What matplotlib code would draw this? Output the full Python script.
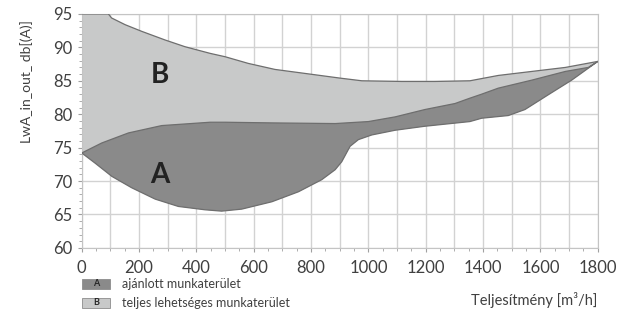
import matplotlib.pyplot as plt
from matplotlib.patches import Rectangle
from matplotlib.ticker import MultipleLocator

plt.rcParams['font.family'] = ['Lato', 'DejaVu Sans']

# upper edge of the full working area (B)
b_top_x = [0, 93, 104, 151, 209, 291, 360, 448, 500, 581, 674, 779, 901, 977,
           1116, 1232, 1354, 1453, 1570, 1687, 1800]
b_top_y = [95, 95, 94.4, 93.4, 92.4, 91.1, 90.1, 89.1, 88.6, 87.6, 86.7, 86.1,
           85.4, 85.0, 84.9, 84.9, 85.0, 85.8, 86.4, 87.0, 87.9]

# upper edge of the recommended area (A)
a_top_x = [0, 70, 163, 279, 448, 500, 663, 884, 1000, 1093, 1197, 1302, 1354,
           1395, 1453, 1570, 1687, 1767, 1800]
a_top_y = [74.2, 75.7, 77.2, 78.3, 78.8, 78.8, 78.7, 78.6, 78.9, 79.6, 80.7,
           81.6, 82.4, 83.0, 83.9, 85.1, 86.4, 87.0, 87.9]

# lower edge of the recommended area (A)
a_bot_x = [0, 46, 105, 174, 256, 337, 430, 488, 558, 663, 756, 837, 884, 907,
           936, 965, 1012, 1093, 1197, 1354, 1395, 1488, 1546, 1627, 1709, 1800]
a_bot_y = [74.2, 72.7, 70.7, 69.0, 67.3, 66.2, 65.7, 65.5, 65.8, 66.9, 68.4,
           70.2, 71.7, 72.9, 75.2, 76.2, 76.9, 77.6, 78.2, 78.9, 79.4, 79.8,
           80.7, 82.9, 85.1, 87.9]

legend_labels = ['ajánlott munkaterület', 'teljes lehetséges munkaterület']

light = '#c8c9c9'
dark = '#8a8a8a'
edge = '#6e6e6e'
txt = '#404040'

fig = plt.figure(figsize=(6.24, 3.17), dpi=100)
ax = fig.add_axes([0.131, 0.218, 0.827, 0.738])

# region B: top edge down to lower edge of A
bx = b_top_x + a_bot_x[::-1]
by = b_top_y + a_bot_y[::-1]
ax.fill(bx, by, facecolor=light, edgecolor='none', zorder=2)
ax.plot(b_top_x, b_top_y, color=edge, lw=0.9, zorder=4)

# region A
axx = a_top_x + a_bot_x[::-1]
ayy = a_top_y + a_bot_y[::-1]
ax.fill(axx, ayy, facecolor=dark, edgecolor=edge, lw=0.9, zorder=3)

ax.text(273, 85.9, 'B', fontsize=20, fontweight='bold', color='#222222',
        ha='center', va='center', zorder=5)
ax.text(273, 70.9, 'A', fontsize=20, fontweight='bold', color='#222222',
        ha='center', va='center', zorder=5)

ax.set_xlim(0, 1800)
ax.set_ylim(60, 95)
ax.xaxis.set_major_locator(MultipleLocator(200))
ax.xaxis.set_minor_locator(MultipleLocator(50))
ax.yaxis.set_major_locator(MultipleLocator(5))
ax.yaxis.set_minor_locator(MultipleLocator(1))

for x in range(0, 1801, 100):
    ax.axvline(x, color='#d2d2d2', lw=1, zorder=1)
for y in range(60, 96, 5):
    ax.axhline(y, color='#d2d2d2', lw=1, zorder=1)

for s in ax.spines.values():
    s.set_color('#c4c4c4')
ax.tick_params(which='both', direction='out', color='#a0a0a0', labelcolor=txt)
ax.tick_params(which='major', length=3, labelsize=12)
ax.tick_params(which='minor', length=2)
ax.tick_params(axis='x', pad=6)

ax.set_ylabel('LwA_in_out_ db[(A)]', fontsize=10, color=txt)
ax.yaxis.set_label_coords(-0.095, 0.71)
fig.text(0.958, 0.055, 'Teljesítmény [m³/h]', fontsize=10.5, color=txt,
         ha='right', va='center')

# legend boxes under the axes
for i, (lab, col) in enumerate(zip(['A', 'B'], [dark, light])):
    yb = 1 - (289 + i * 19) / 317
    fig.patches.append(Rectangle((0.131, yb), 0.046, 0.032, transform=fig.transFigure,
                                 facecolor=col, edgecolor='#8c8c8c', lw=0.6))
    fig.text(0.154, yb + 0.016, lab, fontsize=6.5, fontweight='bold', color='#262626',
             ha='center', va='center')
    fig.text(0.195, yb + 0.016, legend_labels[i], fontsize=9, color=txt,
             ha='left', va='center')

fig.savefig('out.png', dpi=100)
